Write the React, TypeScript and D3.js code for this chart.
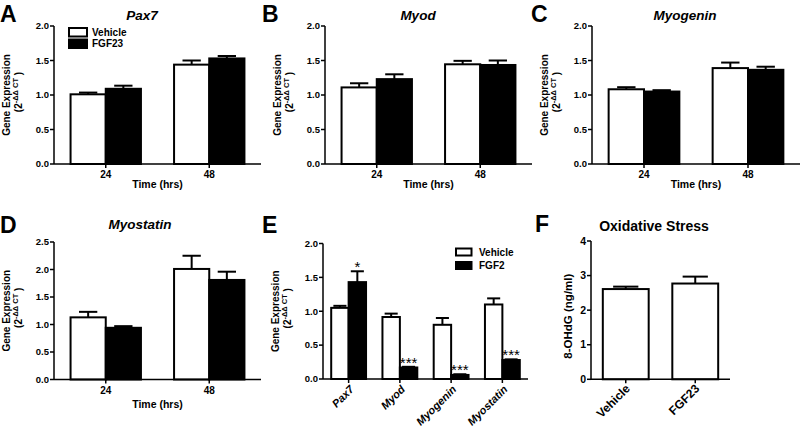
import React from "react";
import * as d3 from "d3";

// ---------- data ----------
const timeCategories = ["24", "48"];
const pax7Vehicle = [1.01, 1.44];
const pax7VehicleErr = [0.025, 0.06];
const pax7Fgf23 = [1.09, 1.53];
const pax7Fgf23Err = [0.045, 0.035];
const myodVehicle = [1.11, 1.445];
const myodVehicleErr = [0.06, 0.05];
const myodFgf23 = [1.23, 1.435];
const myodFgf23Err = [0.07, 0.065];
const myogeninVehicle = [1.083, 1.39];
const myogeninVehicleErr = [0.03, 0.08];
const myogeninFgf23 = [1.05, 1.365];
const myogeninFgf23Err = [0.02, 0.045];
const myostatinVehicle = [1.13, 2.01];
const myostatinVehicleErr = [0.1, 0.24];
const myostatinFgf23 = [0.94, 1.81];
const myostatinFgf23Err = [0.03, 0.15];

const geneCategories = ["Pax7", "Myod", "Myogenin", "Myostatin"];
const fgf2Vehicle = [1.05, 0.915, 0.8, 1.1];
const fgf2VehicleErr = [0.03, 0.05, 0.1, 0.09];
const fgf2Treated = [1.43, 0.17, 0.06, 0.28];
const fgf2TreatedErr = [0.16, 0.01, 0.01, 0.01];
const fgf2Significance = ["*", "***", "***", "***"];

const stressCategories = ["Vehicle", "FGF23"];
const stressValues = [2.61, 2.77];
const stressErr = [0.07, 0.2];

const ticksGene = [0, 0.5, 1, 1.5, 2];
const ticksMyostatin = [0, 0.5, 1, 1.5, 2, 2.5];
const ticksStress = [0, 1, 2, 3, 4];

const FONT = "'Liberation Sans', Arial, Helvetica, sans-serif";

type Series = { name: string; values: number[]; errs: number[]; fill: string; sig?: string[] };

type PanelProps = {
  left: number; right: number; top: number; bottom: number;
  yMax: number; ticks: number[]; fmt: (v: number) => string;
  categories: string[]; series: Series[]; padInner: number; capRatio: number;
  letter: string; letterX: number; letterY: number;
  title?: string; titleX?: number; titleY?: number; titleItalic?: boolean; titleSize?: number;
  yLabel: "gene" | "stress";
  xTitle?: string; xTitleOffset?: number;
  rotatedLabels?: { italic: boolean; size: number; dx: number; dy: number };
  legend?: { x: number; y: number; w: number; h: number; gap: number; tx: number; size: number };
  tickSize?: number;
};

function Panel(p: PanelProps) {
  const x = d3.scaleBand<string>().domain(p.categories).range([p.left, p.right])
    .paddingInner(p.padInner).paddingOuter(p.padInner / 2);
  const inner = d3.scaleBand<string>().domain(p.series.map((s) => s.name)).range([0, x.bandwidth()]);
  const y = d3.scaleLinear().domain([0, p.yMax]).range([p.bottom, p.top]);
  const bw = inner.bandwidth();
  const capW = bw * p.capRatio;
  const midY = (p.top + p.bottom) / 2;
  const ts = p.tickSize ?? 9.5;

  return (
    <g fontFamily={FONT} fill="#000">
      <text x={p.letterX} y={p.letterY} fontSize={23} fontWeight="bold">{p.letter}</text>
      {p.title && (
        <text x={p.titleX} y={p.titleY} fontSize={p.titleSize ?? 13.5} fontWeight="bold"
          fontStyle={p.titleItalic ? "italic" : "normal"} textAnchor="middle">{p.title}</text>
      )}
      {p.categories.map((c, i) =>
        p.series.map((s) => {
          const bx = (x(c) as number) + (inner(s.name) as number);
          const v = s.values[i];
          const e = s.errs[i];
          const cx = bx + bw / 2;
          return (
            <g key={c + s.name}>
              <line x1={cx} x2={cx} y1={y(v)} y2={y(v + e)} stroke="#000" strokeWidth={2} />
              <line x1={cx - capW / 2} x2={cx + capW / 2} y1={y(v + e)} y2={y(v + e)} stroke="#000" strokeWidth={2} />
              <rect x={bx} y={y(v)} width={bw} height={y(0) - y(v)} fill={s.fill} stroke="#000" strokeWidth={2} />
              {s.sig && (
                <text x={cx} y={y(v + e) + 1} fontSize={15} textAnchor="middle">{s.sig[i]}</text>
              )}
            </g>
          );
        })
      )}
      <line x1={p.left} x2={p.left} y1={y(0)} y2={y(p.yMax)} stroke="#000" strokeWidth={1.5} />
      {p.ticks.map((t) => (
        <g key={t}>
          <line x1={p.left - 4} x2={p.left} y1={y(t)} y2={y(t)} stroke="#000" strokeWidth={1.5} />
          <text x={p.left - 5} y={y(t)} dy="0.35em" fontSize={ts} fontWeight="bold" textAnchor="end">{p.fmt(t)}</text>
        </g>
      ))}
      <line x1={p.left} x2={p.right} y1={y(0)} y2={y(0)} stroke="#000" strokeWidth={1.5} />
      {p.categories.map((c) => {
        const cx = (x(c) as number) + x.bandwidth() / 2;
        return (
          <g key={"t" + c}>
            <line x1={cx} x2={cx} y1={y(0)} y2={y(0) + 4} stroke="#000" strokeWidth={1.5} />
            {p.rotatedLabels ? (
              <text transform={`translate(${cx + p.rotatedLabels.dx},${y(0) + p.rotatedLabels.dy}) rotate(-45)`}
                textAnchor="end" fontSize={p.rotatedLabels.size} fontWeight="bold"
                fontStyle={p.rotatedLabels.italic ? "italic" : "normal"}>{c}</text>
            ) : (
              <text x={cx} y={y(0) + 14} fontSize={ts + 0.5} fontWeight="bold" textAnchor="middle">{c}</text>
            )}
          </g>
        );
      })}
      {p.xTitle && (
        <text x={(p.left + p.right) / 2} y={y(0) + (p.xTitleOffset ?? 24)} fontSize={10.5} fontWeight="bold"
          textAnchor="middle">{p.xTitle}</text>
      )}
      {p.yLabel === "gene" ? (
        <g>
          <text transform={`translate(${p.left - 44},${midY}) rotate(-90)`} fontSize={10} fontWeight="bold"
            textAnchor="middle">Gene Expression</text>
          <text transform={`translate(${p.left - 32},${midY - 3}) rotate(-90)`} fontSize={10} fontWeight="bold"
            textAnchor="middle">(2<tspan fontSize={7.5} dy={-4}>-ΔΔ CT</tspan><tspan dy={4}> )</tspan></text>
        </g>
      ) : (
        <text transform={`translate(${p.left - 19},${midY + 6}) rotate(-90)`} fontSize={11.5} fontWeight="bold"
          textAnchor="middle">8-OHdG (ng/ml)</text>
      )}
      {p.legend && p.series.map((s, i) => (
        <g key={"lg" + s.name}>
          <rect x={p.legend!.x} y={p.legend!.y + i * p.legend!.gap} width={p.legend!.w} height={p.legend!.h}
            fill={s.fill} stroke="#000" strokeWidth={2} />
          <text x={p.legend!.x + p.legend!.tx} y={p.legend!.y + i * p.legend!.gap + p.legend!.h / 2} dy="0.35em"
            fontSize={p.legend!.size} fontWeight="bold">{s.name}</text>
        </g>
      ))}
    </g>
  );
}

const f1 = d3.format(".1f");
const f0 = d3.format("d");

export default function App() {
  const topRow = { top: 26, bottom: 164, yMax: 2, ticks: ticksGene, fmt: f1, categories: timeCategories, padInner: 0.32, capRatio: 0.52 };
  return (
    <svg width={800} height={429} style={{ position: "absolute", left: 0, top: 0, background: "#fff" }}>
      <rect width={800} height={429} fill="#fff" />
      <Panel {...topRow} left={54} right={261}
        series={[
          { name: "Vehicle", values: pax7Vehicle, errs: pax7VehicleErr, fill: "#fff" },
          { name: "FGF23", values: pax7Fgf23, errs: pax7Fgf23Err, fill: "#000" },
        ]}
        letter="A" letterX={0} letterY={22} title="Pax7" titleX={142} titleY={20} titleItalic
        yLabel="gene" xTitle="Time (hrs)" xTitleOffset={24}
        legend={{ x: 69, y: 28, w: 18, h: 8.5, gap: 11.5, tx: 23, size: 10 }} />
      <Panel {...topRow} left={325} right={532}
        series={[
          { name: "Vehicle", values: myodVehicle, errs: myodVehicleErr, fill: "#fff" },
          { name: "FGF23", values: myodFgf23, errs: myodFgf23Err, fill: "#000" },
        ]}
        letter="B" letterX={262} letterY={22} title="Myod" titleX={418} titleY={20} titleItalic
        yLabel="gene" xTitle="Time (hrs)" xTitleOffset={24} />
      <Panel {...topRow} left={592} right={800}
        series={[
          { name: "Vehicle", values: myogeninVehicle, errs: myogeninVehicleErr, fill: "#fff" },
          { name: "FGF23", values: myogeninFgf23, errs: myogeninFgf23Err, fill: "#000" },
        ]}
        letter="C" letterX={531} letterY={22} title="Myogenin" titleX={685} titleY={20} titleItalic
        yLabel="gene" xTitle="Time (hrs)" xTitleOffset={24} />
      <Panel top={242} bottom={379.5} yMax={2.5} ticks={ticksMyostatin} fmt={f1} categories={timeCategories}
        padInner={0.32} capRatio={0.52} left={54} right={261}
        series={[
          { name: "Vehicle", values: myostatinVehicle, errs: myostatinVehicleErr, fill: "#fff" },
          { name: "FGF23", values: myostatinFgf23, errs: myostatinFgf23Err, fill: "#000" },
        ]}
        letter="D" letterX={0} letterY={233} title="Myostatin" titleX={140} titleY={229} titleItalic
        yLabel="gene" xTitle="Time (hrs)" xTitleOffset={28} />
      <Panel top={243.5} bottom={379} yMax={2} ticks={ticksGene} fmt={f1} categories={geneCategories}
        padInner={0.32} capRatio={0.75} left={323} right={528}
        series={[
          { name: "Vehicle", values: fgf2Vehicle, errs: fgf2VehicleErr, fill: "#fff" },
          { name: "FGF2", values: fgf2Treated, errs: fgf2TreatedErr, fill: "#000", sig: fgf2Significance },
        ]}
        letter="E" letterX={262} letterY={233}
        yLabel="gene" rotatedLabels={{ italic: true, size: 11, dx: 6, dy: 11 }}
        legend={{ x: 456, y: 248.5, w: 15.5, h: 7, gap: 13.5, tx: 23, size: 10 }} />
      <Panel top={241} bottom={379.3} yMax={4} ticks={ticksStress} fmt={f0} categories={stressCategories}
        padInner={0.34} capRatio={0.55} left={591} right={730}
        series={[{ name: "value", values: stressValues, errs: stressErr, fill: "#fff" }]}
        letter="F" letterX={535} letterY={232} title="Oxidative Stress" titleX={654} titleY={231} titleSize={14}
        yLabel="stress" rotatedLabels={{ italic: false, size: 12, dx: 5, dy: 10 }} tickSize={10.5} />
    </svg>
  );
}
